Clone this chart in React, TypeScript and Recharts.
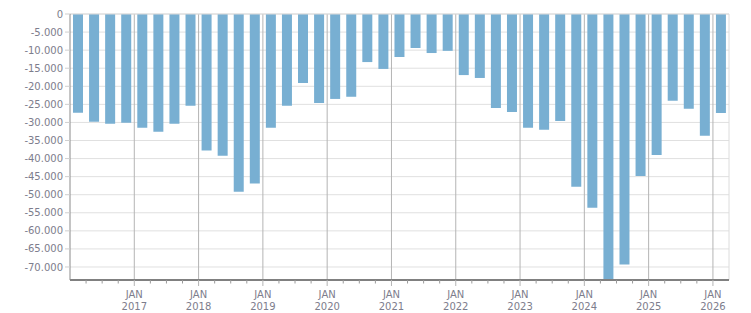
import React from "react";
import { BarChart, Bar, XAxis, YAxis, CartesianGrid, ReferenceLine } from "recharts";

// Quarterly periods shown on the chart
const periods = [
  "2016-Q1", "2016-Q2", "2016-Q3", "2016-Q4",
  "2017-Q1", "2017-Q2", "2017-Q3", "2017-Q4",
  "2018-Q1", "2018-Q2", "2018-Q3", "2018-Q4",
  "2019-Q1", "2019-Q2", "2019-Q3", "2019-Q4",
  "2020-Q1", "2020-Q2", "2020-Q3", "2020-Q4",
  "2021-Q1", "2021-Q2", "2021-Q3", "2021-Q4",
  "2022-Q1", "2022-Q2", "2022-Q3", "2022-Q4",
  "2023-Q1", "2023-Q2", "2023-Q3", "2023-Q4",
  "2024-Q1", "2024-Q2", "2024-Q3", "2024-Q4",
  "2025-Q1", "2025-Q2", "2025-Q3", "2025-Q4",
  "2026-Q1",
];

// Quarterly balance values
const balance = [
  -27300, -29800, -30400, -30100,
  -31500, -32600, -30400, -25400,
  -37800, -39200, -49200, -46900,
  -31500, -25400, -19100, -24600,
  -23500, -22900, -13300, -15200,
  -11900, -9400, -10800, -10200,
  -16900, -17700, -26000, -27100,
  -31500, -32000, -29600, -47800,
  -53600, -73600, -69300, -44800,
  -39000, -24000, -26200, -33700,
  -27400,
];

const yearLabels = ["2017", "2018", "2019", "2020", "2021", "2022", "2023", "2024", "2025", "2026"];
const monthLabel = "JAN";

const yTicks = [0, -5000, -10000, -15000, -20000, -25000, -30000, -35000, -40000, -45000, -50000, -55000, -60000, -65000, -70000];

// Quarter boundaries on the x axis (band edges)
const quarterEdges = Array.from({ length: periods.length + 1 }, (_, i) => i);
const yearEdges = yearLabels.map((_, i) => (i + 1) * 4);

const data = periods.map((p, i) => ({ period: p, pos: i + 0.5, value: balance[i] }));

const FONT = "'DejaVu Sans', Verdana, sans-serif";
const TEXT = "#7d7d8c";

const formatThousands = (v: number) => {
  const neg = v < 0;
  const s = String(Math.abs(v)).replace(/\B(?=(\d{3})+(?!\d))/g, ".");
  return (neg ? "-" : "") + s;
};

const QuarterTick = (props: any) => {
  const { x, y, payload } = props;
  const v = payload.value as number;
  const yi = yearEdges.indexOf(v);
  const isJan = yi >= 0;
  if (v === 0 || v === periods.length) return <g />;
  return (
    <g>
      <line x1={x} x2={x} y1={y} y2={y + (isJan ? 6 : 3.5)} stroke={isJan ? "#b4b4b4" : "#9a9a9a"} strokeWidth={1} />
      {isJan && (
        <text x={x} y={y + 18} textAnchor="middle" fill={TEXT} fontSize={10} fontFamily={FONT}>
          {monthLabel}
        </text>
      )}
      {isJan && (
        <text x={x} y={y + 30} textAnchor="middle" fill={TEXT} fontSize={10} fontFamily={FONT}>
          {yearLabels[yi]}
        </text>
      )}
    </g>
  );
};

export default function App() {
  return (
    <div style={{ position: "absolute", left: 0, top: 0, width: 751, height: 313, background: "#fff" }}>
      <BarChart width={751} height={313} data={data} margin={{ top: 14, right: 22, left: 0, bottom: 0 }}>
        <CartesianGrid vertical={false} stroke="#e0e0e0" strokeWidth={1} />
        {yearEdges.map((e) => (
          <ReferenceLine key={e} x={e} stroke="#b4b4b4" strokeWidth={1} ifOverflow="visible" />
        ))}
        <ReferenceLine x={periods.length} stroke="#dcdcdc" strokeWidth={1} />
        <ReferenceLine y={0} stroke="#dcdcdc" strokeWidth={1} />
        <XAxis
          dataKey="pos"
          type="number"
          domain={[0, periods.length]}
          ticks={quarterEdges}
          interval={0}
          height={33}
          tickSize={0}
          tickMargin={0}
          tickLine={false}
          axisLine={{ stroke: "#808080", strokeWidth: 2 }}
          tick={<QuarterTick />}
        />
        <YAxis
          type="number"
          domain={[-73600, 0]}
          ticks={yTicks}
          interval={0}
          width={70}
          tickSize={5}
          tickMargin={2}
          tickFormatter={formatThousands}
          axisLine={{ stroke: "#8a8a8a", strokeWidth: 1 }}
          tickLine={{ stroke: "#cfcfcf" }}
          tick={{ fill: TEXT, fontSize: 10, fontFamily: FONT }}
        />
        <Bar dataKey="value" fill="#78afd2" barSize={10} isAnimationActive={false} />
      </BarChart>
    </div>
  );
}
